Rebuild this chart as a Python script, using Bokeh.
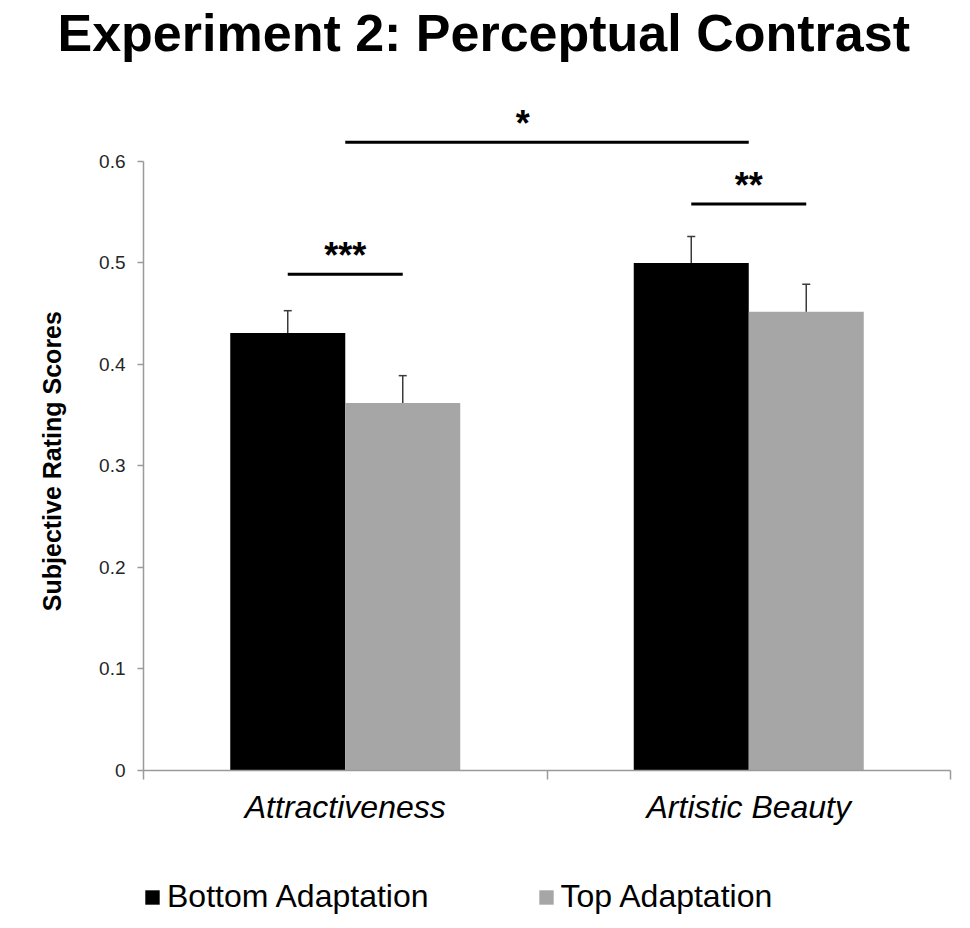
from bokeh.plotting import figure
from bokeh.layouts import column
from bokeh.models import (Range1d, FixedTicker, Whisker, TeeHead, ColumnDataSource,
                          Legend, LegendItem)
from bokeh.embed import file_html
from bokeh.resources import INLINE
from bokeh.core.properties import value

# ---------------- data ----------------
categories = ["Attractiveness", "Artistic Beauty"]
series_names = ["Bottom Adaptation", "Top Adaptation"]
bottom_values = [0.431, 0.500]
top_values = [0.362, 0.452]
bottom_err = [0.022, 0.026]
top_err = [0.027, 0.027]
y_ticks = [0, 0.1, 0.2, 0.3, 0.4, 0.5, 0.6]
y_tick_labels = ["0", "0.1", "0.2", "0.3", "0.4", "0.5", "0.6"]
title_text = "Experiment 2: Perceptual Contrast"
y_label = "Subjective Rating Scores"
sig_labels = ["***", "**", "*"]
sig_heights = [0.489, 0.558, 0.619]

# --------------- styling ---------------
FONT = "Liberation Sans"
BLACK = "#000000"
GRAY = "#a6a6a6"
AXIS = "#9a9a9a"
half = 0.1425
bar_w = 0.285

cat_x = [i + 0.5 for i in range(len(categories))]
bottom_x = [x - half for x in cat_x]
top_x = [x + half for x in cat_x]

p = figure(width=954, height=864, output_backend="svg", toolbar_location=None,
           x_range=Range1d(0, len(categories)), y_range=Range1d(0, 0.6985),
           min_border_left=143, min_border_right=4, min_border_top=61,
           min_border_bottom=94)
p.outline_line_color = None
p.xgrid.visible = False
p.ygrid.visible = False
p.background_fill_color = "white"
p.border_fill_color = "white"

src_b = ColumnDataSource(dict(x=bottom_x, top=bottom_values,
                              upper=[v + e for v, e in zip(bottom_values, bottom_err)]))
src_t = ColumnDataSource(dict(x=top_x, top=top_values,
                              upper=[v + e for v, e in zip(top_values, top_err)]))

r_b = p.vbar(x="x", top="top", width=bar_w, source=src_b, fill_color=BLACK, line_color=None)
r_t = p.vbar(x="x", top="top", width=bar_w, source=src_t, fill_color=GRAY, line_color=None)

for src in (src_b, src_t):
    w = Whisker(source=src, base="x", lower="top", upper="upper",
                line_color="#3a3a3a", line_width=1.5,
                upper_head=TeeHead(size=8, line_color="#3a3a3a", line_width=1.5),
                lower_head=None, level="overlay")
    p.add_layout(w)

# significance brackets
sig_x0 = [bottom_x[0], bottom_x[1], cat_x[0]]
sig_x1 = [top_x[0], top_x[1], cat_x[1]]
sig_tx = [cat_x[0], cat_x[1], (cat_x[0] + cat_x[1]) / 2 - 0.06]
p.segment(x0=sig_x0, x1=sig_x1, y0=sig_heights, y1=sig_heights,
          line_color=BLACK, line_width=3)
p.text(x=sig_tx, y=[h + 0.018 for h in sig_heights], text=sig_labels,
       text_font=value(FONT), text_font_style="bold", text_font_size="36px",
       text_align="center", text_baseline="alphabetic", text_color=BLACK)

# axes
xa = p.xaxis[0]
xa.ticker = FixedTicker(ticks=cat_x, minor_ticks=[float(i) for i in range(len(categories) + 1)])
xa.major_label_overrides = {x: c for x, c in zip(cat_x, categories)}
xa.bounds = (0, len(categories))
xa.axis_line_color = AXIS
xa.axis_line_width = 1.5
xa.major_tick_out = 0
xa.major_tick_in = 0
xa.minor_tick_out = 9
xa.minor_tick_in = 0
xa.minor_tick_line_color = AXIS
xa.minor_tick_line_width = 1.5
xa.major_label_text_font = FONT
xa.major_label_text_font_style = "italic"
xa.major_label_text_font_size = "32px"
xa.major_label_text_color = BLACK
xa.major_label_standoff = 9

ya = p.yaxis[0]
ya.ticker = FixedTicker(ticks=y_ticks, minor_ticks=[])
ya.major_label_overrides = {t: l for t, l in zip(y_ticks, y_tick_labels)}
ya.bounds = (0, 0.6)
ya.axis_line_color = AXIS
ya.axis_line_width = 1.5
ya.major_tick_out = 6
ya.major_tick_in = 0
ya.major_tick_line_color = AXIS
ya.major_tick_line_width = 1.5
ya.major_label_text_font = FONT
ya.major_label_text_font_size = "19px"
ya.major_label_text_color = "#262626"
ya.major_label_standoff = 12
# trailing no-break spaces centre the label on the 0-0.6 span rather than the frame
ya.axis_label = y_label + "\u00a0" * 13
ya.axis_label_text_font = FONT
ya.axis_label_text_font_style = "bold"
ya.axis_label_text_font_size = "25px"
ya.axis_label_text_color = BLACK
ya.axis_label_standoff = 30

# title
p.title.text = title_text
p.title.text_font = FONT
p.title.text_font_style = "bold"
p.title.text_font_size = "52px"
p.title.text_color = BLACK
p.title.align = "left"
p.title.offset = -86
p.title.standoff = 0

# legend strip (separate small figure so the legend is not clipped)
lg = figure(width=954, height=51, output_backend="svg", toolbar_location=None,
            x_range=Range1d(0, 1), y_range=Range1d(0, 1),
            x_axis_location=None, y_axis_location=None,
            min_border_left=143, min_border_right=4, min_border_top=0, min_border_bottom=0)
lg.center = []          # no grids at all in the legend strip
lg.outline_line_color = None
lg.background_fill_color = "white"
lg.border_fill_color = "white"
d_b = lg.vbar(x=[0.5], top=[0], bottom=[0], width=0.01, fill_color=BLACK, line_color=None)
d_t = lg.vbar(x=[0.5], top=[0], bottom=[0], width=0.01, fill_color=GRAY, line_color=None)
legend = Legend(items=[LegendItem(label=series_names[0], renderers=[d_b]),
                       LegendItem(label=series_names[1], renderers=[d_t])],
                orientation="horizontal", location=(0, 0),
                label_text_font=FONT, label_text_font_size="32px",
                label_text_color=BLACK, glyph_width=18, glyph_height=18,
                label_standoff=6, spacing=108, padding=0, margin=0,
                border_line_color=None, background_fill_alpha=0)
lg.add_layout(legend, "center")

layout = column(p, lg, spacing=0)
open("out.html", "w").write(file_html(layout, INLINE))
